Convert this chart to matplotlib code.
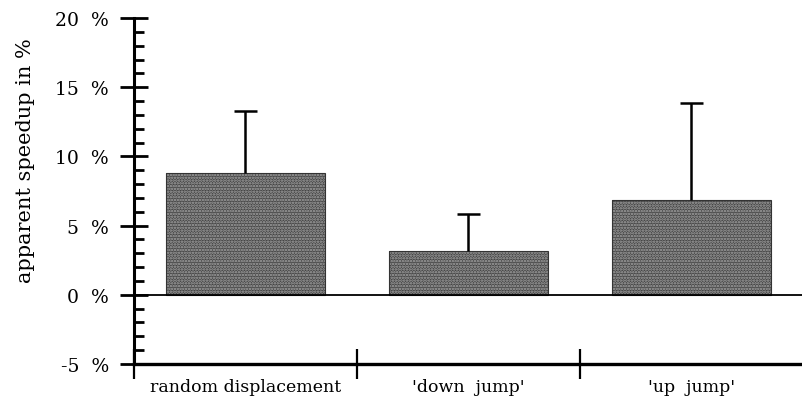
import matplotlib
matplotlib.use("Agg")
import matplotlib.pyplot as plt
from matplotlib.ticker import MultipleLocator, FixedLocator

categories = ["random displacement", "'down  jump'", "'up  jump'"]
values = [8.8, 3.2, 6.85]
errors = [4.5, 2.65, 7.0]
ytick_vals = [-5, 0, 5, 10, 15, 20]
ytick_labels = ["-5  %", "0  %", "5  %", "10  %", "15  %", "20  %"]

plt.rcParams['font.family'] = ['DejaVu Serif']
plt.rcParams['hatch.linewidth'] = 1.2

fig = plt.figure(figsize=(8.03, 4.14), dpi=100)
ax = fig.add_axes([134/803, 1-365/414, 1-134/803, (365-19)/414])

x = [i + 0.5 for i in range(len(categories))]
w = 0.71
ax.bar(x, values, width=w, color='#454545', edgecolor='#a8a8a8', hatch='......', linewidth=0, zorder=2)
ax.bar(x, values, width=w, fill=False, edgecolor='#333333', linewidth=0.8, zorder=3)

tops = [v + e for v, e in zip(values, errors)]
ax.vlines(x, values, tops, color='black', lw=1.8, zorder=4)
cap = 0.05
ax.hlines(tops, [xi - cap for xi in x], [xi + cap for xi in x], color='black', lw=1.8, zorder=4)

ax.axhline(0, color='black', lw=1.3, zorder=5)

ax.set_xlim(0, 3)
ax.set_ylim(-5, 20)

for s in ['top', 'right']:
    ax.spines[s].set_visible(False)
ax.spines['left'].set_linewidth(2.2)
ax.spines['bottom'].set_linewidth(2.4)

ax.yaxis.set_major_locator(FixedLocator(ytick_vals))
ax.set_yticklabels(ytick_labels, fontsize=13.5)
ax.yaxis.set_minor_locator(MultipleLocator(1))
ax.tick_params(axis='y', which='major', direction='inout', length=20, width=2, pad=8)
ax.tick_params(axis='y', which='minor', direction='in', length=7, width=2)

ax.xaxis.set_major_locator(FixedLocator([0, 1, 2]))
ax.xaxis.set_minor_locator(FixedLocator(x))
ax.tick_params(axis='x', which='major', direction='inout', length=22, width=1.6, labelbottom=False)
ax.tick_params(axis='x', which='minor', length=0, pad=10)
ax.set_xticklabels(categories, minor=True, fontsize=12.5)

ax.set_ylabel("apparent speedup in %", fontsize=15)
ax.yaxis.set_label_coords(-0.148, 0.59)

fig.savefig("out.png", dpi=100)
